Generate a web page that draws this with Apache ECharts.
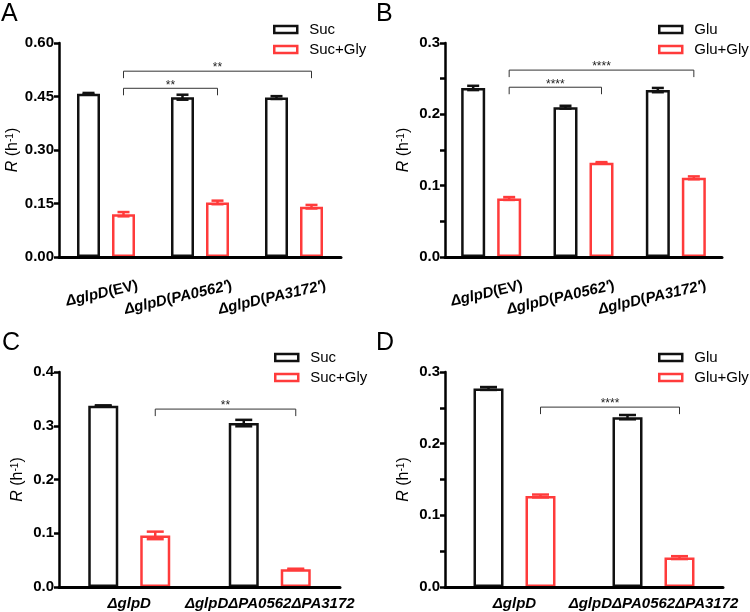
<!DOCTYPE html>
<html><head><meta charset="utf-8">
<script src="https://cdn.jsdelivr.net/npm/echarts@6/dist/echarts.min.js"></script>
<style>html,body{margin:0;padding:0;background:#fff}#c{width:750px;height:612px}</style>
</head><body><div id="c"></div>
<script>
// ---------- data ----------
const catsAB = ["ΔglpD(EV)", "ΔglpD(PA0562')", "ΔglpD(PA3172')"];
const catsCD = ["ΔglpD", "ΔglpDΔPA0562ΔPA3172"];

const sucA = [0.458, 0.448, 0.447];
const sucA_err = [0.002, 0.007, 0.004];
const sucGlyA = [0.120, 0.153, 0.141];
const sucGlyA_err = [0.006, 0.005, 0.005];

const gluB = [0.237, 0.210, 0.234];
const gluB_err = [0.003, 0.002, 0.003];
const gluGlyB = [0.082, 0.132, 0.111];
const gluGlyB_err = [0.002, 0.001, 0.002];

const sucC = [0.337, 0.305];
const sucC_err = [0.001, 0.006];
const sucGlyC = [0.096, 0.033];
const sucGlyC_err = [0.007, 0.001];

const gluD = [0.277, 0.237];
const gluD_err = [0.002, 0.003];
const gluGlyD = [0.127, 0.041];
const gluGlyD_err = [0.002, 0.002];

const ticksA = ["0.00", "0.15", "0.30", "0.45", "0.60"];
const ticksB = ["0.0", "0.1", "0.2", "0.3"];
const ticksC = ["0.0", "0.1", "0.2", "0.3", "0.4"];
const ticksD = ["0.0", "0.1", "0.2", "0.3"];

// significance brackets: [fromCategory, toCategory, level, stars]
const bracketsA = [[0, 1, 0.473, "**"], [0, 2, 0.521, "**"]];
const bracketsB = [[0, 1, 0.238, "****"], [0, 2, 0.262, "****"]];
const bracketsC = [[0, 1, 0.331, "**"]];
const bracketsD = [[0, 1, 0.251, "****"]];

// ---------- styling / layout ----------
const FONT = "'Liberation Sans', Arial, Helvetica, sans-serif";
const BLACK = '#111111', RED = '#ff3b3b';

const panels = [
  {letter: 'A', lx: 1, ly: 2, grid: {left: 59, top: 43, width: 282, height: 214}, cats: catsAB,
   names: ['Suc', 'Suc+Gly'], s: [sucA, sucGlyA], e: [sucA_err, sucGlyA_err], ticks: ticksA, minor: false,
   barW: 23, gap: 12, capW: 12, rotated: true, legend: {left: 273, top: 22}, brackets: bracketsA},
  {letter: 'B', lx: 376, ly: 2, grid: {left: 445, top: 43, width: 277, height: 214}, cats: catsAB,
   names: ['Glu', 'Glu+Gly'], s: [gluB, gluGlyB], e: [gluB_err, gluGlyB_err], ticks: ticksB, minor: true,
   barW: 24, gap: 12, capW: 12, rotated: true, legend: {left: 658, top: 22}, brackets: bracketsB},
  {letter: 'C', lx: 2, ly: 331, grid: {left: 59, top: 372, width: 281, height: 215}, cats: catsCD,
   names: ['Suc', 'Suc+Gly'], s: [sucC, sucGlyC], e: [sucC_err, sucGlyC_err], ticks: ticksC, minor: false,
   barW: 30, gap: 22, capW: 17, rotated: false, legend: {left: 274, top: 350}, brackets: bracketsC},
  {letter: 'D', lx: 376, ly: 331, grid: {left: 445, top: 372, width: 278, height: 215}, cats: catsCD,
   names: ['Glu', 'Glu+Gly'], s: [gluD, gluGlyD], e: [gluD_err, gluGlyD_err], ticks: ticksD, minor: true,
   barW: 30, gap: 22, capW: 17, rotated: false, legend: {left: 658, top: 350}, brackets: bracketsD}
];

const labelRich = {
  n: {fontWeight: 'bold', fontSize: 15, fontFamily: FONT, color: '#000'},
  i: {fontWeight: 'bold', fontStyle: 'italic', fontSize: 15, fontFamily: FONT, color: '#000'}
};
function richLabel(s) {
  return s.split(/(\(|\)|EV)/).filter(t => t).map(t =>
    (/^(\(|\)|EV)$/.test(t) ? '{n|' + t + '}' : '{i|' + t + '}')).join('');
}

const axisLineStyle = {color: '#000', width: 2.5};

function errRender(off, color, capW) {
  return function (params, api) {
    const c = api.value(0), v = api.value(1), e = api.value(2);
    const top = api.coord([c, v + e]);
    const bot = api.coord([c, v - e]);
    const x = top[0] + off;
    const st = {stroke: color, lineWidth: 2.5, fill: null};
    return {type: 'group', children: [
      {type: 'line', shape: {x1: x, y1: top[1], x2: x, y2: bot[1]}, style: st},
      {type: 'line', shape: {x1: x - capW / 2, y1: top[1], x2: x + capW / 2, y2: top[1]}, style: st},
      {type: 'line', shape: {x1: x - capW / 2, y1: bot[1], x2: x + capW / 2, y2: bot[1]}, style: st}
    ]};
  };
}

function bracketRender(p) {
  return function (params, api) {
    const b = p.brackets[params.dataIndex];
    const p1 = api.coord([api.value(0), api.value(2)]);
    const p2 = api.coord([api.value(1), api.value(2)]);
    const off = (p.barW + p.gap) / 2;
    const x1 = p1[0] + off, x2 = p2[0] + off, y = p1[1], drop = 7;
    return {type: 'group', children: [
      {type: 'polyline', shape: {points: [[x1, y + drop], [x1, y], [x2, y], [x2, y + drop]]},
       style: {stroke: '#333', lineWidth: 1, fill: null}},
      {type: 'text', x: (x1 + x2) / 2, y: y - 3,
       style: {text: b[3], font: '12px ' + FONT, fill: '#222', align: 'center', verticalAlign: 'middle'}}
    ]};
  };
}

const grids = [], xAxes = [], yAxes = [], series = [], legends = [], graphics = [];

panels.forEach(p => {
  const gi = grids.length;
  grids.push(Object.assign({containLabel: false}, p.grid));
  const vals = p.ticks.map(Number);
  const dec = p.ticks[0].split('.')[1].length;
  xAxes.push({
    type: 'category', gridIndex: gi, data: p.cats, z: 10,
    axisLine: {lineStyle: {color: '#000', width: 3}},
    axisTick: {alignWithLabel: true, length: 6, lineStyle: {width: 2.5, color: '#000'}},
    axisLabel: p.rotated ? {show: false} : {interval: 0, margin: 9, formatter: richLabel, rich: labelRich}
  });
  yAxes.push({
    type: 'value', gridIndex: gi, min: vals[0], max: vals[vals.length - 1], interval: vals[1] - vals[0], z: 10,
    splitLine: {show: false},
    axisLine: {show: true, lineStyle: axisLineStyle},
    axisTick: {show: true, length: 5, lineStyle: {width: 2.5, color: '#000'}},
    minorTick: {show: p.minor, splitNumber: 2, length: 5, lineStyle: {width: 2.5, color: '#000'}},
    axisLabel: {
      margin: 5, fontSize: 15, fontWeight: 'bold', color: '#000', fontFamily: FONT,
      formatter: v => { const k = vals.findIndex(t => Math.abs(t - v) < 1e-9); return k >= 0 ? p.ticks[k] : v.toFixed(dec); }
    },
    name: '{i|R} (h{s|-1})', nameLocation: 'middle', nameGap: 33,
    nameTextStyle: {fontSize: 16, color: '#000', fontFamily: FONT,
      rich: {i: {fontStyle: 'italic', fontSize: 16, fontFamily: FONT, color: '#000'},
             s: {fontSize: 10, verticalAlign: 'top', fontFamily: FONT, color: '#000'}}}
  });
  const xi = xAxes.length - 1, yi = yAxes.length - 1;

  if (p.rotated) {
    const gj = grids.length;
    grids.push(Object.assign({}, p.grid, {left: p.grid.left + 30}));
    xAxes.push({
      type: 'category', gridIndex: gj, data: p.cats,
      axisLine: {show: false}, axisTick: {show: false},
      axisLabel: {interval: 0, rotate: 13, align: 'right', verticalAlign: 'top', margin: 21,
                  formatter: richLabel, rich: labelRich}
    });
    yAxes.push({type: 'value', gridIndex: gj, show: false, min: 0, max: 1});
  }

  const colors = [BLACK, RED];
  const offs = [-(p.barW + p.gap) / 2, (p.barW + p.gap) / 2];
  [0, 1].forEach(k => {
    series.push({
      type: 'bar', name: p.names[k], xAxisIndex: xi, yAxisIndex: yi, data: p.s[k],
      barWidth: p.barW, barGap: (p.gap / p.barW * 100).toFixed(1) + '%',
      itemStyle: {color: '#fff', borderColor: colors[k], borderWidth: 2.5},
      emphasis: {disabled: true}, z: 2
    });
  });
  [0, 1].forEach(k => {
    series.push({
      type: 'custom', name: p.names[k] + ' err', xAxisIndex: xi, yAxisIndex: yi,
      data: p.s[k].map((v, i) => [i, v, p.e[k][i]]), encode: {x: 0, y: 1},
      renderItem: errRender(offs[k], colors[k], p.capW), z: 3, silent: true
    });
  });
  series.push({
    type: 'custom', name: 'sig', xAxisIndex: xi, yAxisIndex: yi,
    data: p.brackets.map(b => [b[0], b[1], b[2]]), encode: {x: [0, 1], y: 2},
    renderItem: bracketRender(p), z: 4, silent: true, clip: false
  });

  legends.push({
    data: p.names, left: p.legend.left, top: p.legend.top, orient: 'vertical', icon: 'rect',
    padding: 0, itemWidth: 23, itemHeight: 7, itemGap: 5, selectedMode: false,
    itemStyle: {borderWidth: 2.5},
    textStyle: {fontSize: 15, color: '#000', fontFamily: FONT, padding: [0, 0, 0, 7]}
  });

  graphics.push({type: 'text', left: p.lx, top: p.ly, style: {text: p.letter, font: '25px ' + FONT, fill: '#000'}});
});

const chart = echarts.init(document.getElementById('c'), null, {renderer: 'canvas'});
chart.setOption({
  animation: false,
  backgroundColor: '#fff',
  textStyle: {fontFamily: FONT},
  grid: grids, xAxis: xAxes, yAxis: yAxes, series: series, legend: legends, graphic: graphics
});
</script>
</body></html>
